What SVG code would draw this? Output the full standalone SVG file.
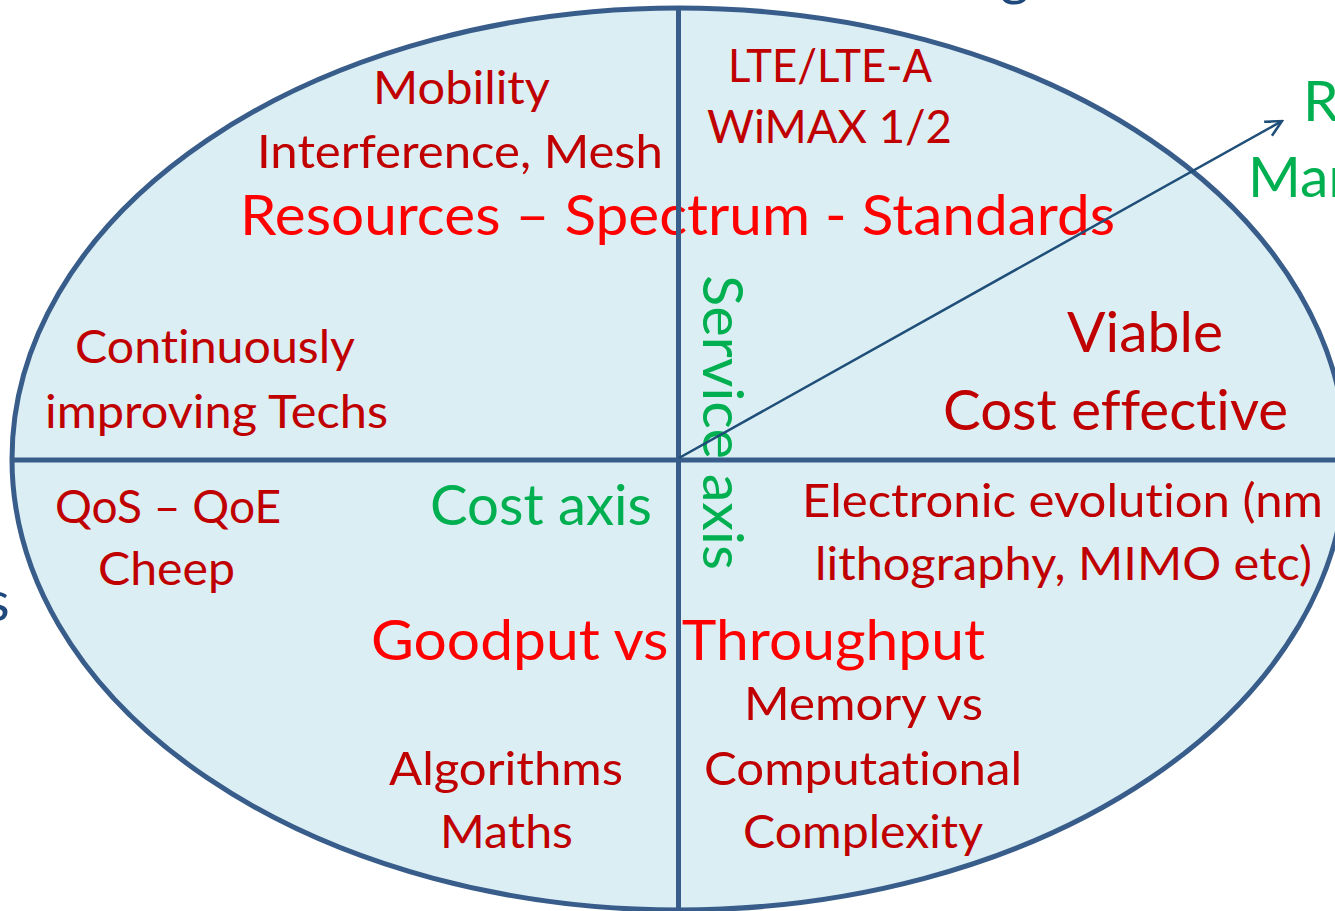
<svg xmlns="http://www.w3.org/2000/svg" width="1335" height="911" viewBox="0 0 1335 911">
<defs>
<style>
text{font-family:Lato,"Open Sans","Liberation Sans",sans-serif;font-variant-ligatures:none;font-feature-settings:"liga" 0,"clig" 0,"dlig" 0;}
.dr{fill:#C00000;font-size:47px;}
.br{fill:#FF0000;font-size:57px;}
.drl{fill:#C00000;font-size:57px;}
.gr{fill:#00B050;font-size:57px;}
.nv{fill:#1F497D;font-size:57px;}
.ax{stroke:#385D8A;stroke-width:5;fill:none;}
</style>
<marker id="arr" viewBox="0 0 20 20" refX="18" refY="10" markerWidth="20" markerHeight="20" markerUnits="userSpaceOnUse" orient="auto">
<path d="M2,2 L18,10 L2,18" fill="none" stroke="#1F4E79" stroke-width="2.5"/>
</marker>
</defs>
<rect width="1335" height="911" fill="#FFFFFF"/>
<g id="partial-texts">
<text class="nv" x="1000" y="-6">g</text>
<text class="nv" x="-15" y="621">s</text>
<text class="gr" x="1303" y="121">R</text>
<text class="gr" x="1248" y="197">Mar</text>
</g>
<g id="ellipse">
<ellipse cx="679" cy="459" rx="667" ry="451" fill="#DBEEF4" stroke="#385D8A" stroke-width="5"/>
</g>
<g id="q1-top-left">
<text class="dr" x="373" y="104" textLength="177" lengthAdjust="spacingAndGlyphs">Mobility</text>
<text class="dr" x="257" y="168" textLength="406" lengthAdjust="spacingAndGlyphs">Interference, Mesh</text>
<text class="dr" x="75" y="363" textLength="280" lengthAdjust="spacingAndGlyphs">Continuously</text>
<text class="dr" x="45" y="428" textLength="343" lengthAdjust="spacingAndGlyphs">improving Techs</text>
</g>
<g id="q2-top-right">
<text class="dr" x="728" y="82" textLength="204" lengthAdjust="spacingAndGlyphs">LTE/LTE-A</text>
<text class="dr" x="707" y="143" textLength="245" lengthAdjust="spacingAndGlyphs">WiMAX 1/2</text>
<text class="drl" x="1067" y="352" textLength="156" lengthAdjust="spacingAndGlyphs">Viable</text>
<text class="drl" x="943" y="430" textLength="345" lengthAdjust="spacingAndGlyphs">Cost effective</text>
</g>
<g id="resources">
<text class="br" x="240" y="235" textLength="875" lengthAdjust="spacingAndGlyphs">Resources – Spectrum - Standards</text>
</g>
<g id="q3-bottom-left">
<text class="dr" x="55" y="523" textLength="226" lengthAdjust="spacingAndGlyphs">QoS – QoE</text>
<text class="dr" x="98" y="585" textLength="137" lengthAdjust="spacingAndGlyphs">Cheep</text>
<text class="gr" x="430" y="525" textLength="222" lengthAdjust="spacingAndGlyphs">Cost axis</text>
<text class="dr" x="389" y="785" textLength="234" lengthAdjust="spacingAndGlyphs">Algorithms</text>
<text class="dr" x="440" y="848" textLength="133" lengthAdjust="spacingAndGlyphs">Maths</text>
</g>
<g id="q4-bottom-right">
<text class="dr" x="802" y="517" textLength="521" lengthAdjust="spacingAndGlyphs">Electronic evolution (nm</text>
<text class="dr" x="815" y="580" textLength="497" lengthAdjust="spacingAndGlyphs">lithography, MIMO etc)</text>
<text class="dr" x="744" y="720" textLength="239" lengthAdjust="spacingAndGlyphs">Memory vs</text>
<text class="dr" x="704" y="785" textLength="318" lengthAdjust="spacingAndGlyphs">Computational</text>
<text class="dr" x="743" y="848" textLength="240" lengthAdjust="spacingAndGlyphs">Complexity</text>
</g>
<g id="goodput">
<text class="br" x="371" y="660" textLength="614" lengthAdjust="spacingAndGlyphs">Goodput vs Throughput</text>
</g>
<g id="service-axis">
<text class="gr" transform="translate(703,275) rotate(90)" x="0" y="0" textLength="295" lengthAdjust="spacingAndGlyphs">Service axis</text>
</g>
<g id="connectors">
<line class="ax" x1="12" y1="460" x2="1346" y2="460"/>
<line class="ax" x1="678.5" y1="8" x2="678.5" y2="911"/>
<line x1="679" y1="458" x2="1282" y2="121" stroke="#1F4E79" stroke-width="2.5" marker-end="url(#arr)"/>
</g>
</svg>
